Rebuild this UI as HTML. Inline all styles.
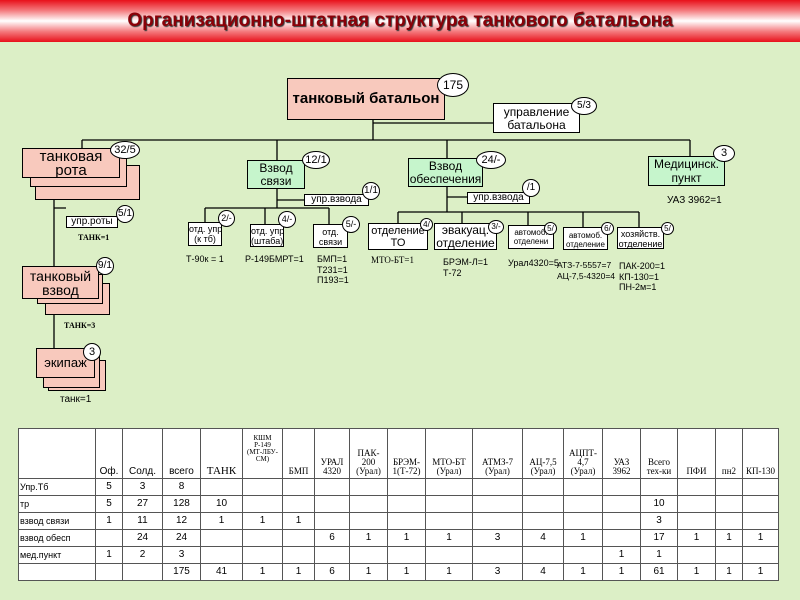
<!DOCTYPE html>
<html><head><meta charset="utf-8"><style>
body{margin:0;width:800px;height:600px;overflow:hidden;background:#dcefc6;font-family:"Liberation Sans","DejaVu Sans",sans-serif;position:relative}
.t{position:absolute;left:0;top:0;width:800px;height:42px;background:linear-gradient(#e8101a 0%,#f47a7e 25%,#fff 50%,#f47a7e 75%,#e8101a 100%);text-align:center;font-weight:bold;font-size:19px;line-height:42px;color:#8a0008;text-shadow:1px 1px 1px #333}
.b{position:absolute;border:1px solid #000;box-sizing:border-box;text-align:center;line-height:1.05;overflow:hidden;white-space:nowrap}
.p{background:#f8c9bd}.g{background:#c6f5cc}.w{background:#fff}
.c{position:absolute;background:#fff;border:1px solid #000;border-radius:50%;box-sizing:border-box;text-align:center;font-size:11px}
.l{position:absolute;font-size:9px;white-space:nowrap;line-height:10.5px}
svg{position:absolute;left:0;top:0}
table{position:absolute;left:18px;top:428px;border-collapse:collapse;background:#fff;font-size:10px;table-layout:fixed}
td{border:1px solid #555;text-align:center;padding:0;height:16px;line-height:12px}
tr.h td{height:41px;font-family:"Liberation Serif",serif;font-size:9px;line-height:9px;vertical-align:bottom;padding-bottom:2px}
td.f{text-align:left;font-size:9px;padding-left:1px}
</style></head><body>
<div class="t">Организационно-штатная структура танкового батальона</div>
<svg width="800" height="430"><g stroke="#000" stroke-width="1.3" fill="none">
<path d="M373 120V140M373 123H493M82 140H690M82 140V148M277 140V160M447 140V158M690 140V156"/>
<path d="M54 199V266M54 208H66M54 315V348"/>
<path d="M277 189V208M277 200H304M205 208H329M205 208V222M265 208V224M329 208V224"/>
<path d="M447 186V212M447 197H467M398 212H639M398 212V223M462 212V223M528 212V225M583 212V227M639 212V227"/>
</g></svg>
<div class="b p" style="left:287px;top:78px;width:158px;height:42px;font-weight:bold;font-size:15px;line-height:40px">танковый батальон</div>
<div class="c" style="left:437px;top:73px;width:32px;height:24px;line-height:22px;font-size:12px">175</div>
<div class="b w" style="left:493px;top:103px;width:87px;height:30px;font-size:12px;padding-top:2px">управление<br>батальона</div>
<div class="c" style="left:571px;top:97px;width:26px;height:18px;line-height:16px;font-size:10px">5/3</div>

<div class="b p" style="left:35px;top:165px;width:105px;height:35px"></div>
<div class="b p" style="left:30px;top:157px;width:97px;height:30px"></div>
<div class="b p" style="left:22px;top:148px;width:98px;height:30px;font-size:15px;line-height:14px;padding-top:1px">танковая<br>рота</div>
<div class="c" style="left:110px;top:141px;width:30px;height:18px;line-height:16px">32/5</div>
<div class="b w" style="left:66px;top:216px;width:52px;height:12px;font-size:10px;line-height:10px">упр.роты</div>
<div class="c" style="left:116px;top:205px;width:18px;height:18px;line-height:16px;font-size:10px">5/1</div>
<div class="l" style="left:78px;top:233px;font-family:'Liberation Serif',serif;font-weight:bold;font-size:8px">ТАНК=1</div>

<div class="b p" style="left:45px;top:283px;width:65px;height:32px"></div>
<div class="b p" style="left:37px;top:274px;width:66px;height:30px"></div>
<div class="b p" style="left:22px;top:266px;width:77px;height:33px;font-size:14px;line-height:14px;padding-top:2px">танковый<br>взвод</div>
<div class="c" style="left:96px;top:257px;width:18px;height:18px;line-height:16px;font-size:10px">9/1</div>
<div class="l" style="left:64px;top:321px;font-family:'Liberation Serif',serif;font-weight:bold;font-size:8px">ТАНК=3</div>

<div class="b p" style="left:48px;top:360px;width:58px;height:31px"></div>
<div class="b p" style="left:43px;top:355px;width:57px;height:33px"></div>
<div class="b p" style="left:36px;top:348px;width:59px;height:30px;font-size:13px;line-height:28px">экипаж</div>
<div class="c" style="left:83px;top:343px;width:18px;height:18px;line-height:16px">3</div>
<div class="l" style="left:60px;top:395px;font-size:10px">танк=1</div>

<div class="b g" style="left:247px;top:160px;width:58px;height:29px;font-size:12px;line-height:13px;padding-top:1px">Взвод<br>связи</div>
<div class="c" style="left:302px;top:151px;width:28px;height:18px;line-height:16px">12/1</div>
<div class="b w" style="left:304px;top:194px;width:65px;height:12px;font-size:10px;line-height:10px">упр.взвода</div>
<div class="c" style="left:362px;top:182px;width:18px;height:18px;line-height:16px;font-size:10px">1/1</div>
<div class="b w" style="left:188px;top:222px;width:34px;height:24px;font-size:9px;line-height:10px;padding-top:1px">отд. упр.<br>(к тб)</div>
<div class="c" style="left:218px;top:210px;width:17px;height:17px;line-height:15px;font-size:9px">2/-</div>
<div class="b w" style="left:250px;top:224px;width:34px;height:23px;font-size:9px;line-height:10px;padding-top:1px">отд. упр.<br>(штаба)</div>
<div class="c" style="left:278px;top:211px;width:18px;height:17px;line-height:15px;font-size:9px">4/-</div>
<div class="b w" style="left:313px;top:224px;width:35px;height:24px;font-size:9px;line-height:10px;padding-top:2px">отд.<br>связи</div>
<div class="c" style="left:342px;top:216px;width:18px;height:17px;line-height:15px;font-size:9px">5/-</div>
<div class="l" style="left:186px;top:254px">Т-90к = 1</div>
<div class="l" style="left:245px;top:254px">Р-149БМРТ=1</div>
<div class="l" style="left:317px;top:254px">БМП=1<br>Т231=1<br>П193=1</div>

<div class="b g" style="left:408px;top:158px;width:75px;height:29px;font-size:12px;line-height:13px;padding-top:1px">Взвод<br>обеспечения</div>
<div class="c" style="left:476px;top:151px;width:30px;height:18px;line-height:16px">24/-</div>
<div class="b w" style="left:467px;top:192px;width:63px;height:12px;font-size:10px;line-height:10px">упр.взвода</div>
<div class="c" style="left:522px;top:179px;width:18px;height:18px;line-height:16px;font-size:10px">/1</div>
<div class="b w" style="left:368px;top:223px;width:60px;height:27px;font-size:11px;line-height:12px;padding-top:1px">отделение<br>ТО</div>
<div class="c" style="left:420px;top:218px;width:13px;height:13px;line-height:11px;font-size:8px">4/</div>
<div class="b w" style="left:434px;top:223px;width:63px;height:27px;font-size:12px;line-height:13px">эвакуац.<br>отделение</div>
<div class="c" style="left:488px;top:220px;width:16px;height:14px;line-height:12px;font-size:8px">3/-</div>
<div class="b w" style="left:508px;top:225px;width:46px;height:24px;font-size:8px;line-height:9px;padding-top:2px">автомоб.<br>отделени<br>е</div>
<div class="c" style="left:544px;top:222px;width:13px;height:13px;line-height:11px;font-size:8px">5/</div>
<div class="b w" style="left:563px;top:227px;width:45px;height:23px;font-size:8px;line-height:9px;padding-top:3px">автомоб.<br>отделение</div>
<div class="c" style="left:601px;top:222px;width:13px;height:13px;line-height:11px;font-size:8px">6/</div>
<div class="b w" style="left:617px;top:227px;width:47px;height:22px;font-size:9px;line-height:10px;padding-top:1px">хозяйств.<br>отделение</div>
<div class="c" style="left:661px;top:222px;width:13px;height:13px;line-height:11px;font-size:8px">5/</div>
<div class="l" style="left:371px;top:255px;font-family:'Liberation Serif',serif">МТО-БТ=1</div>
<div class="l" style="left:443px;top:257px">БРЭМ-Л=1<br>Т-72</div>
<div class="l" style="left:508px;top:258px">Урал4320=5</div>
<div class="l" style="left:557px;top:260px;font-size:8.5px">АТЗ-7-5557=7<br>АЦ-7,5-4320=4</div>
<div class="l" style="left:619px;top:261px">ПАК-200=1<br>КП-130=1<br>ПН-2м=1</div>

<div class="b g" style="left:648px;top:156px;width:77px;height:30px;font-size:12px;line-height:14px;padding-top:0px">Медицинск.<br>пункт</div>
<div class="c" style="left:713px;top:145px;width:22px;height:17px;line-height:15px">3</div>
<div class="l" style="left:667px;top:196px;font-size:10px">УАЗ 3962=1</div>

<table>
<colgroup><col style="width:77px"><col style="width:27px"><col style="width:40px"><col style="width:38px"><col style="width:42px"><col style="width:40px"><col style="width:32px"><col style="width:35px"><col style="width:38px"><col style="width:38px"><col style="width:47px"><col style="width:50px"><col style="width:41px"><col style="width:39px"><col style="width:38px"><col style="width:37px"><col style="width:38px"><col style="width:27px"><col style="width:36px"></colgroup>
<tr class="h"><td></td><td style="font-family:'Liberation Sans';font-size:10px">Оф.</td><td style="font-family:'Liberation Sans';font-size:10px">Солд.</td><td style="font-family:'Liberation Sans';font-size:10px">всего</td><td style="font-size:11px">ТАНК</td><td style="font-size:7px;line-height:7px;vertical-align:top;padding-top:6px">КШМ<br>Р-149<br>(МТ-ЛБУ-<br>СМ)</td><td>БМП</td><td>УРАЛ<br>4320</td><td>ПАК-<br>200<br>(Урал)</td><td>БРЭМ-<br>1(Т-72)</td><td>МТО-БТ<br>(Урал)</td><td>АТМЗ-7<br>(Урал)</td><td>АЦ-7,5<br>(Урал)</td><td>АЦПТ-<br>4,7<br>(Урал)</td><td>УАЗ<br>3962</td><td>Всего<br>тех-ки</td><td>ПФИ</td><td>пн2</td><td>КП-130</td></tr>
<tr><td class="f">Упр.Тб</td><td>5</td><td>3</td><td>8</td><td></td><td></td><td></td><td></td><td></td><td></td><td></td><td></td><td></td><td></td><td></td><td></td><td></td><td></td><td></td></tr>
<tr><td class="f">тр</td><td>5</td><td>27</td><td>128</td><td>10</td><td></td><td></td><td></td><td></td><td></td><td></td><td></td><td></td><td></td><td></td><td>10</td><td></td><td></td><td></td></tr>
<tr><td class="f">взвод связи</td><td>1</td><td>11</td><td>12</td><td>1</td><td>1</td><td>1</td><td></td><td></td><td></td><td></td><td></td><td></td><td></td><td></td><td>3</td><td></td><td></td><td></td></tr>
<tr><td class="f">взвод обесп</td><td></td><td>24</td><td>24</td><td></td><td></td><td></td><td>6</td><td>1</td><td>1</td><td>1</td><td>3</td><td>4</td><td>1</td><td></td><td>17</td><td>1</td><td>1</td><td>1</td></tr>
<tr><td class="f">мед.пункт</td><td>1</td><td>2</td><td>3</td><td></td><td></td><td></td><td></td><td></td><td></td><td></td><td></td><td></td><td></td><td>1</td><td>1</td><td></td><td></td><td></td></tr>
<tr><td></td><td></td><td></td><td>175</td><td>41</td><td>1</td><td>1</td><td>6</td><td>1</td><td>1</td><td>1</td><td>3</td><td>4</td><td>1</td><td>1</td><td>61</td><td>1</td><td>1</td><td>1</td></tr>
</table>
</body></html>
